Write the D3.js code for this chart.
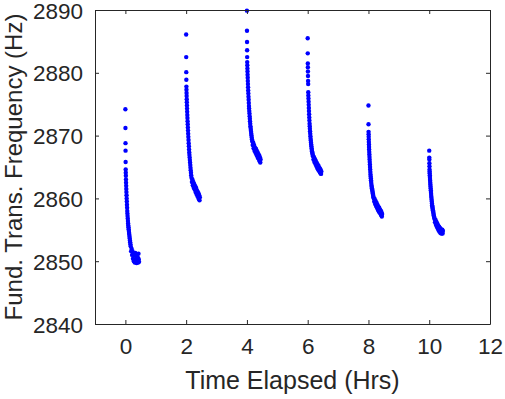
<!DOCTYPE html>
<html>
<head>
<meta charset="utf-8">
<script src="https://cdn.jsdelivr.net/npm/d3@7"></script>
<style>
  html, body { margin: 0; padding: 0; background: #fff; }
  svg { display: block; }
  text { font-family: "Liberation Sans", Arial, Helvetica, sans-serif; fill: #262626; }
</style>
</head>
<body>
<div id="chart"></div>
<script>
// ---------------- DATA ----------------
const startTimes = [0, 2, 4, 6, 8, 10];  // hours, start of each measurement burst

// time offsets (hours) after each burst start, shared by all bursts
const offsets = [
  0, 0.002, 0.004, 0.006, 0.008,
  0.010, 0.013, 0.016, 0.019, 0.022, 0.026, 0.030, 0.034, 0.038, 0.042,
  0.047, 0.052, 0.057, 0.062, 0.067, 0.072, 0.078, 0.084, 0.090, 0.096,
  0.102, 0.108, 0.115, 0.122, 0.129, 0.136, 0.143, 0.150, 0.158, 0.166,
  0.175, 0.190, 0.205, 0.220, 0.235, 0.250, 0.265, 0.280, 0.295, 0.310,
  0.325, 0.340, 0.355, 0.370, 0.385, 0.400, 0.410, 0.420, 0.430, 0.440, 0.450
];

const freq0 = [
  2874.2, 2871.2, 2868.8, 2867.6, 2865.8,
  2864.6, 2864.1, 2863.6, 2863.0, 2862.5, 2862.0, 2861.5, 2861.0, 2860.5, 2860.0,
  2859.5, 2859.0, 2858.5, 2858.0, 2857.6, 2857.2, 2856.8, 2856.4, 2856.0, 2855.7,
  2855.4, 2855.1, 2854.8, 2854.5, 2854.2, 2853.9, 2853.6, 2853.3, 2853.0, 2852.7,
  2852.4, 2851.6, 2852.0, 2851.0, 2851.6, 2850.4, 2851.2, 2850.0, 2850.9, 2849.8,
  2851.3, 2850.2, 2850.8, 2849.7, 2851.1, 2850.0, 2850.6, 2849.8, 2851.2, 2850.3, 2849.9
];
const freq2 = [
  2886.1, 2882.5, 2880.1, 2878.9, 2877.8,
  2877.3, 2876.8, 2876.3, 2875.8, 2875.3, 2874.8, 2874.3, 2873.8, 2873.3, 2872.8,
  2872.3, 2871.8, 2871.3, 2870.8, 2870.3, 2869.8, 2869.3, 2868.8, 2868.3, 2867.8,
  2867.3, 2866.9, 2866.5, 2866.1, 2865.7, 2865.3, 2864.9, 2864.5, 2864.1, 2863.7,
  2863.3, 2862.6, 2863.0, 2862.1, 2862.6, 2861.7, 2862.3, 2861.4, 2862.0, 2861.0,
  2861.7, 2860.7, 2861.3, 2860.4, 2861.0, 2860.1, 2860.8, 2859.9, 2860.5, 2859.7, 2860.2
];
const freq4 = [
  2889.9, 2886.7, 2884.9, 2883.6, 2882.5,
  2881.7, 2881.2, 2880.7, 2880.2, 2879.7, 2879.2, 2878.7, 2878.2, 2877.7, 2877.2,
  2876.7, 2876.2, 2875.7, 2875.2, 2874.7, 2874.3, 2873.9, 2873.5, 2873.1, 2872.7,
  2872.3, 2871.9, 2871.5, 2871.2, 2870.9, 2870.6, 2870.3, 2870.0, 2869.7, 2869.4,
  2869.1, 2868.5, 2868.9, 2868.0, 2868.5, 2867.6, 2868.1, 2867.3, 2867.9, 2867.0,
  2867.6, 2866.7, 2867.3, 2866.4, 2867.0, 2866.2, 2866.8, 2865.9, 2866.5, 2865.7, 2866.2
];
const freq6 = [
  2885.5, 2883.1, 2881.5, 2880.9, 2880.2,
  2879.5, 2878.7, 2878.2, 2876.9, 2876.4, 2875.9, 2875.4, 2874.9, 2874.4, 2873.9,
  2873.4, 2872.9, 2872.4, 2871.9, 2871.5, 2871.1, 2870.7, 2870.3, 2869.9, 2869.5,
  2869.2, 2868.9, 2868.6, 2868.3, 2868.0, 2867.7, 2867.5, 2867.3, 2867.1, 2866.9,
  2866.7, 2866.2, 2866.6, 2865.8, 2866.3, 2865.5, 2866.0, 2865.2, 2865.7, 2864.9,
  2865.4, 2864.6, 2865.2, 2864.4, 2864.9, 2864.2, 2864.7, 2864.0, 2864.5, 2863.9, 2864.3
];
const freq8 = [
  2874.8, 2871.8, 2870.6, 2870.2, 2869.8,
  2869.4, 2869.0, 2868.6, 2868.2, 2867.8, 2867.4, 2867.0, 2866.6, 2866.2, 2865.8,
  2865.4, 2865.0, 2864.6, 2864.2, 2863.8, 2863.5, 2863.2, 2862.9, 2862.6, 2862.3,
  2862.0, 2861.8, 2861.6, 2861.4, 2861.2, 2861.0, 2860.8, 2860.6, 2860.4, 2860.2,
  2860.0, 2859.5, 2859.9, 2859.1, 2859.6, 2858.8, 2859.3, 2858.5, 2859.0, 2858.2,
  2858.7, 2857.9, 2858.5, 2857.7, 2858.2, 2857.5, 2858.0, 2857.3, 2857.8, 2857.1, 2857.5
];
const freq10 = [
  2867.6, 2866.5, 2866.2, 2865.6, 2865.1,
  2864.6, 2864.3, 2864.0, 2863.7, 2863.4, 2863.1, 2862.8, 2862.5, 2862.2, 2861.9,
  2861.6, 2861.3, 2861.0, 2860.7, 2860.4, 2860.1, 2859.8, 2859.5, 2859.2, 2858.9,
  2858.7, 2858.5, 2858.3, 2858.1, 2857.9, 2857.7, 2857.5, 2857.3, 2857.1, 2856.9,
  2856.7, 2856.2, 2856.6, 2855.8, 2856.3, 2855.5, 2856.0, 2855.2, 2855.7, 2854.9,
  2855.5, 2854.7, 2855.3, 2854.5, 2855.1, 2854.4, 2854.9, 2854.5, 2855.0, 2854.4, 2854.8
];
const bursts = [freq0, freq2, freq4, freq6, freq8, freq10];

const xTicks = [0, 2, 4, 6, 8, 10, 12];
const yTicks = [2840, 2850, 2860, 2870, 2880, 2890];
const xLabel = "Time Elapsed (Hrs)";
const yLabel = "Fund. Trans. Frequency (Hz)";

// ---------------- CHART ----------------
const W = 505, H = 399;
const m = { left: 95, right: 15, top: 10, bottom: 75 };
const iw = W - m.left - m.right, ih = H - m.top - m.bottom;

const svg = d3.select("#chart").append("svg").attr("width", W).attr("height", H);
const g = svg.append("g").attr("transform", `translate(${m.left},${m.top})`);

const x = d3.scaleLinear().domain([-1, 12]).range([0, iw]);
const y = d3.scaleLinear().domain([2840, 2890]).range([ih, 0]);

const points = [];
bursts.forEach((vals, i) => {
  vals.forEach((v, j) => points.push({ t: startTimes[i] + offsets[j], f: v }));
});

g.append("g").selectAll("circle").data(points).join("circle")
  .attr("cx", d => x(d.t)).attr("cy", d => y(d.f))
  .attr("r", 2.2).attr("fill", "#0000ff");

const axisColor = "#262626";
const tickLen = 4;
const fmt = d3.format("d");

// axes
const xAxis = g.append("g").attr("transform", `translate(0,${ih})`)
  .call(d3.axisBottom(x).tickValues(xTicks).tickFormat(fmt).tickSizeInner(-tickLen).tickSizeOuter(0).tickPadding(12));
const yAxis = g.append("g")
  .call(d3.axisLeft(y).tickValues(yTicks).tickFormat(fmt).tickSizeInner(-tickLen).tickSizeOuter(0).tickPadding(12));
const xTop = g.append("g")
  .call(d3.axisTop(x).tickValues(xTicks).tickSizeInner(-tickLen).tickSizeOuter(0).tickFormat(""));
const yRight = g.append("g").attr("transform", `translate(${iw},0)`)
  .call(d3.axisRight(y).tickValues(yTicks).tickSizeInner(-tickLen).tickSizeOuter(0).tickFormat(""));

[xAxis, yAxis, xTop, yRight].forEach(a => {
  a.selectAll("path.domain").attr("stroke", axisColor).attr("stroke-width", 1);
  a.selectAll(".tick line").attr("stroke", axisColor).attr("stroke-width", 1);
  a.selectAll(".tick text").attr("fill", axisColor)
    .style("font-family", '"Liberation Sans", Arial, Helvetica, sans-serif')
    .style("font-size", "22.5px");
});
xAxis.selectAll(".tick text").attr("dy", "0.78em");
yAxis.selectAll(".tick text").attr("dy", "0.36em");

// labels
svg.append("text").attr("x", m.left + x(5.5)).attr("y", 389)
  .attr("text-anchor", "middle").style("font-size", "25px").text(xLabel);
svg.append("text")
  .attr("transform", `translate(22,${m.top + ih / 2}) rotate(-90)`)
  .attr("text-anchor", "middle").style("font-size", "24px").text(yLabel);
</script>
</body>
</html>
